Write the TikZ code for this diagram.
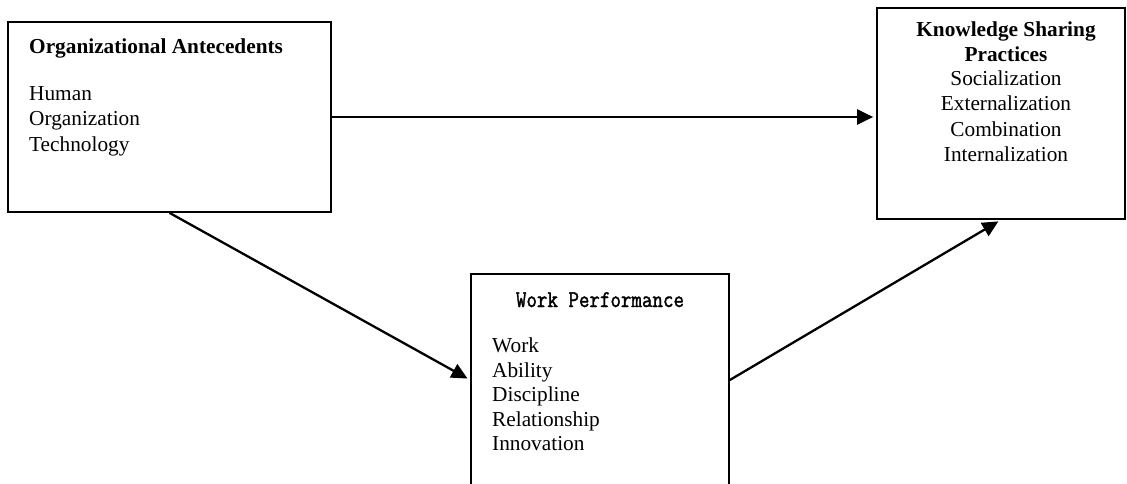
\documentclass[tikz,border=0pt]{standalone}
\usepackage{fontspec}
\setmainfont{Liberation Serif}
\newfontfamily\wpfont[FakeStretch=0.85,FakeBold=1.5]{Latin Modern Mono}
\usetikzlibrary{arrows.meta}
\begin{document}
\begin{tikzpicture}[x=1pt,y=-1pt,
  box/.style={draw,line width=1.7pt,inner sep=0pt,rectangle},
  txt/.style={inner sep=0pt,anchor=base west,font=\fontsize{21.3}{25}\selectfont},
  ctxt/.style={inner sep=0pt,anchor=base,font=\fontsize{21.3}{25}\selectfont},
  arr/.style={line width=2.3pt,shorten >=3pt,-{Triangle[length=16pt,width=15pt]}}]
\useasboundingbox[fill=white] (0,0) rectangle (1127,484);
% boxes
\node[box,minimum width=323pt,minimum height=190pt] (ante) at (169.5,117) {};
\node[box,minimum width=248pt,minimum height=211pt] (ksp) at (1001,113.5) {};
\node[box,minimum width=258pt,minimum height=212pt] (wp) at (600,380) {};
% texts of box 1
\node[txt,font=\fontsize{21.3}{25}\selectfont\bfseries] (anteT) at (29,54) {Organizational Antecedents};
\node[txt] (ante1) at (29,101) {Human};
\node[txt] (ante2) at (29,126) {Organization};
\node[txt] (ante3) at (29,151) {Technology};
% texts of box 2
\node[ctxt,font=\fontsize{21.3}{25}\selectfont\bfseries] (kspT1) at (1006,37) {Knowledge Sharing};
\node[ctxt,font=\fontsize{21.3}{25}\selectfont\bfseries] (kspT2) at (1006,62) {Practices};
\node[ctxt] (ksp1) at (1006,86) {Socialization};
\node[ctxt] (ksp2) at (1006,111) {Externalization};
\node[ctxt] (ksp3) at (1006,136) {Combination};
\node[ctxt] (ksp4) at (1006,161) {Internalization};
% texts of box 3
\node[ctxt,font=\fontsize{24}{25}\wpfont] (wpT) at (600,307) {Work Performance};
\node[txt] (wp1) at (492,352) {Work};
\node[txt] (wp2) at (492,377) {Ability};
\node[txt] (wp3) at (492,401) {Discipline};
\node[txt] (wp4) at (492,426) {Relationship};
\node[txt] (wp5) at (492,450) {Innovation};
% connectors
\draw[arr] (ante.east) -- (ksp.west |- ante.east);
\draw[arr] (ante.south) -- (wp.west);
\draw[arr] (wp.east) -- (ksp.south);
\end{tikzpicture}
\end{document}
